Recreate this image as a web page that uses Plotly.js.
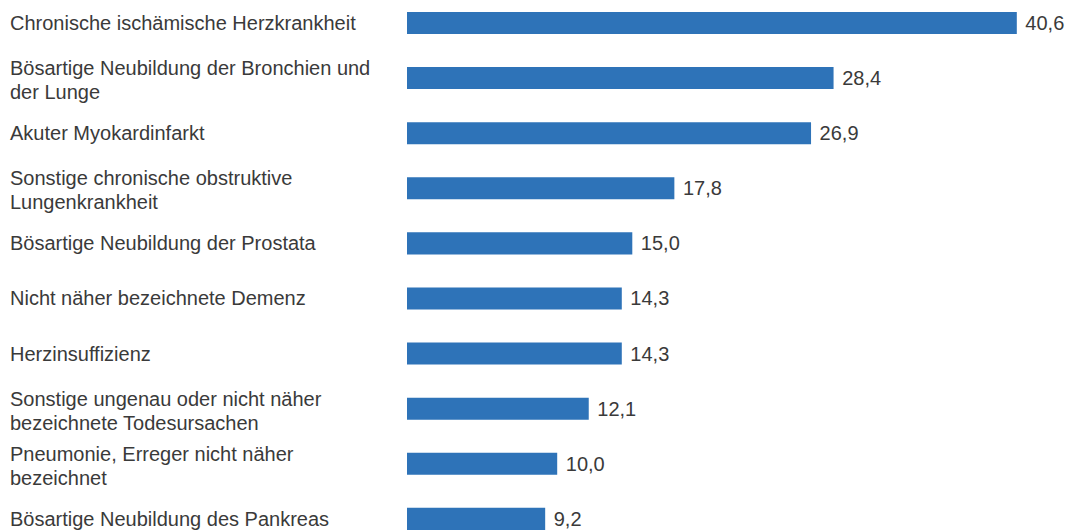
<!DOCTYPE html>
<html><head><meta charset="utf-8">
<script src="https://cdn.plot.ly/plotly-3.0.1.min.js"></script>
<style>html,body{margin:0;padding:0;background:#fff}#c{width:1075px;height:532px}</style>
</head><body><div id="c"></div>
<script>
const categories = [
  ["Chronische ischämische Herzkrankheit"],
  ["Bösartige Neubildung der Bronchien und", "der Lunge"],
  ["Akuter Myokardinfarkt"],
  ["Sonstige chronische obstruktive", "Lungenkrankheit"],
  ["Bösartige Neubildung der Prostata"],
  ["Nicht näher bezeichnete Demenz"],
  ["Herzinsuffizienz"],
  ["Sonstige ungenau oder nicht näher", "bezeichnete Todesursachen"],
  ["Pneumonie, Erreger nicht näher", "bezeichnet"],
  ["Bösartige Neubildung des Pankreas"]
];
const values = [40.6, 28.4, 26.9, 17.8, 15.0, 14.3, 14.3, 12.1, 10.0, 9.2];

const W = 1075, H = 532;
const FONT = "Liberation Sans, Arial, sans-serif";
const TXT = "#3a3a3a";
const idx = categories.map((_, i) => i);

const annotations = [];
categories.forEach((lines, i) => {
  const lh = 24;
  lines.forEach((ln, k) => {
    annotations.push({
      xref: "paper", yref: "y", x: 8 / W, y: i,
      xanchor: "left", yanchor: "middle", showarrow: false,
      text: ln, align: "left",
      yshift: -((k - (lines.length - 1) / 2) * lh) - (lines.length > 1 ? 2 : 0),
      font: {family: FONT, size: 20, color: TXT}
    });
  });
});

const trace = {
  type: "bar", orientation: "h",
  x: values, y: idx,
  width: 0.4,
  marker: {color: "#2e73b8"},
  texttemplate: "\u00a0%{x:.1f}",
  textposition: "outside",
  cliponaxis: false,
  textfont: {family: FONT, size: 20, color: TXT},
  hoverinfo: "none"
};

const layout = {
  width: W, height: H,
  margin: {l: 0, r: 0, t: 0, b: 0},
  paper_bgcolor: "#fff", plot_bgcolor: "#fff",
  separators: ",.",
  showlegend: false,
  xaxis: {domain: [407 / W, 1], range: [0, 668 / 15.02], visible: false, fixedrange: true},
  yaxis: {range: [9.238, -0.4174], visible: false, fixedrange: true},
  annotations: annotations
};

Plotly.newPlot("c", [trace], layout, {displayModeBar: false, staticPlot: true});
</script></body></html>
